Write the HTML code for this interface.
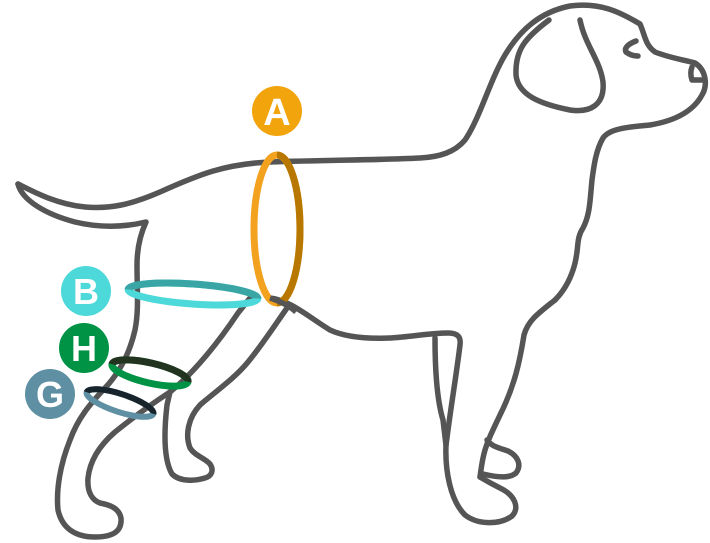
<!DOCTYPE html>
<html><head><meta charset="utf-8"><style>
html,body{margin:0;padding:0;background:#fff;width:710px;height:543px;overflow:hidden}
svg{display:block}
text{font-family:"Liberation Sans",sans-serif;font-weight:bold;fill:#fff;text-anchor:middle}
</style></head><body>
<svg width="710" height="543" viewBox="0 0 710 543">
<g fill="none" stroke="#555" stroke-width="5.5" stroke-linecap="round" stroke-linejoin="round">
<path d="M18,184 C30,190 55,204 85,207 C110,209 130,205 160,192 C200,174 225,164 270,162 C330,160 380,160 420,158 C440,157 455,152 465,140 C480,118 490,80 505,55 C520,30 540,12 570,6 C600,2 620,12 640,24 C645,35 645,45 655,52 C670,58 685,60 695,63 C706,70 708,85 702,95 C695,108 680,120 650,125 C630,127 610,128 603,138 C596,150 594,165 592,180 C590,200 590,215 583,228 C575,240 580,250 573,270 C568,285 560,295 555,300"/>
<path d="M549,20 C525,38 515,50 516,75 C518,95 540,104 570,110 C590,113 605,105 603,82 C600,60 585,45 580,20"/>
<path d="M636,41 C628,44 624,48 626,52 C630,55 634,56 638,56"/>
<path d="M692,67 C690,72 691,77 692,80 L702,80"/>
<path d="M18,184 C22,200 45,214 75,222 C100,228 125,227 146,222 C140,235 137,250 137,265 C137,290 139,310 135,330 C130,352 120,372 105,388 C90,404 78,418 70,440 C60,465 56,490 58,510 C62,528 75,537 95,537 C115,537 122,530 121,518 C119,508 110,505 100,503 C92,500 87,492 88,478 C90,460 100,445 115,432 C130,420 150,405 170,392 C195,372 220,340 238,313 L250,298"/>
<path d="M287,308 C275,325 262,345 248,362 C235,378 215,392 200,405 C188,418 185,435 190,448 C195,456 205,458 210,464 C214,470 212,476 205,478 C195,481 180,482 172,474 C165,462 163,440 167,405 L170,392"/>
<path d="M270,298 C290,300 310,318 330,330 C345,337 365,339 390,338 C410,337 430,333 448,333 C458,333 461,337 460,345 C457,370 452,400 448,430 L446,445"/>
<path d="M435,338 C435,370 437,400 443,420 L446,445 C445,470 450,500 465,515 C478,525 500,525 512,516 C520,508 515,495 500,488 C492,484 485,480 480,477"/>
<path d="M555,300 C540,312 528,320 524,335 C520,360 515,385 500,415 C492,432 488,440 485,450 C482,460 481,470 480,477"/>
<path d="M487,440 C492,447 500,448 508,451 C518,456 522,465 516,473 C510,478 500,478 483,474"/>
</g>
<ellipse cx="277" cy="229" rx="23" ry="74" fill="none" stroke="#F2A21E" stroke-width="7"/>
<path d="M277,155 A23,74 0 0 1 277,303" fill="none" stroke="#B87800" stroke-width="7"/>
<path d="M270,298 C282,302 290,306 296,312" fill="none" stroke="#555" stroke-width="5.5"/>
<g transform="rotate(4 193 294)">
<ellipse cx="193" cy="294" rx="65" ry="10" fill="none" stroke="#4DD9D9" stroke-width="7"/>
<path d="M128,294 A65,10 0 0 1 258,294" fill="none" stroke="#3AA5A5" stroke-width="7"/>
</g>
<g transform="rotate(13 150 373)">
<ellipse cx="150" cy="373" rx="39" ry="10" fill="none" stroke="#009245" stroke-width="7"/>
<path d="M111,373 A39,10 0 0 1 189,373" fill="none" stroke="#22331F" stroke-width="7"/>
</g>
<g transform="rotate(18 120 403)">
<ellipse cx="120" cy="403" rx="35" ry="9" fill="none" stroke="#5E8FA3" stroke-width="6"/>
<path d="M85,403 A35,9 0 0 1 155,403" fill="none" stroke="#17242B" stroke-width="6"/>
</g>
<circle cx="277" cy="111" r="25" fill="#F2A40C"/>
<text x="277" y="125" font-size="38">A</text>
<circle cx="86" cy="291" r="25" fill="#4DD9D9"/>
<text x="86" y="304" font-size="36">B</text>
<circle cx="84" cy="348" r="25" fill="#009245"/>
<text x="84" y="361" font-size="36">H</text>
<circle cx="50" cy="394" r="25" fill="#5E8FA3"/>
<text x="50" y="407" font-size="36">G</text>
</svg>
</body></html>
